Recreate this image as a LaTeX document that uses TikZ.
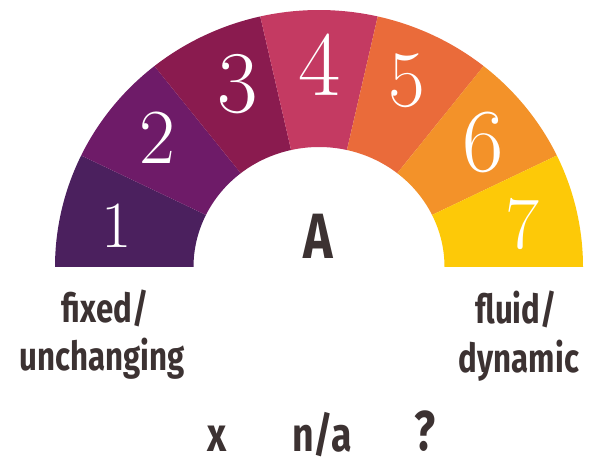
\documentclass[tikz,border=0pt]{standalone}
\usepackage{fontspec}
\usetikzlibrary{calc}
\newfontfamily\handfont[FakeStretch=0.78]{Fira Sans}
\definecolor{segA}{HTML}{4B205E}
\definecolor{segB}{HTML}{6E1B68}
\definecolor{segC}{HTML}{8A1B4F}
\definecolor{segD}{HTML}{C43A62}
\definecolor{segE}{HTML}{EA6B3A}
\definecolor{segF}{HTML}{F39229}
\definecolor{segG}{HTML}{FDC908}
\definecolor{inkc}{HTML}{3C3232}
\begin{document}
\begin{tikzpicture}[x=1pt,y=1pt,
  digit/.style={text=white,inner sep=0pt,anchor=center},
  lbl/.style={text=inkc,inner sep=0pt,anchor=base,font=\handfont\bfseries\fontsize{40}{40}\selectfont},
  bot/.style={text=inkc,inner sep=0pt,anchor=base,font=\handfont\bfseries\fontsize{48}{48}\selectfont}]
\useasboundingbox (0,0) rectangle (589,464);
\fill[white] (0,0) rectangle (589,464);
\coordinate (c) at (319,197);
\foreach \i/\col in {1/segA,2/segB,3/segC,4/segD,5/segE,6/segF,7/segG}{
  \pgfmathsetmacro\a{180-(\i-1)*180/7}
  \pgfmathsetmacro\b{180-\i*180/7}
  \fill[\col] ($(c)+(\a:264 and 257)$) arc[start angle=\a, end angle=\b, x radius=264, y radius=257]
    -- ($(c)+(\b:125.5 and 120)$) arc[start angle=\b, end angle=\a, x radius=125.5, y radius=120] -- cycle;
}
\node[digit,font=\fontsize{66}{66}\selectfont] (n1) at (117,238) {1};
\node[digit,font=\fontsize{78}{78}\selectfont] (n2) at (157,326) {2};
\node[digit,font=\fontsize{88}{88}\selectfont] (n3) at (238,380) {3};
\node[digit,font=\fontsize{92}{92}\selectfont] (n4) at (320,399) {4};
\node[digit,font=\fontsize{80}{80}\selectfont] (n5) at (407,383) {5};
\node[digit,font=\fontsize{90}{90}\selectfont] (n6) at (483,322) {6};
\node[digit,font=\fontsize{74}{74}\selectfont] (n7) at (522,240) {7};
\node[text=inkc,inner sep=0pt,anchor=center,font=\handfont\bfseries\fontsize{64}{64}\selectfont] (lA) at (318,228) {A};
\node[lbl] (fixed) at (105,142) {fixed/};
\node[lbl] (unch) at (102,94) {unchanging};
\node[lbl] (fluid) at (516,141) {fluid/};
\node[lbl] (dyn) at (519,92) {dynamic};
\node[bot] (bx) at (217,13) {x};
\node[bot] (bna) at (322,13) {n/a};
\node[bot,font=\handfont\bfseries\fontsize{56}{56}\selectfont] (bq) at (425,14) {?};
\end{tikzpicture}
\end{document}
